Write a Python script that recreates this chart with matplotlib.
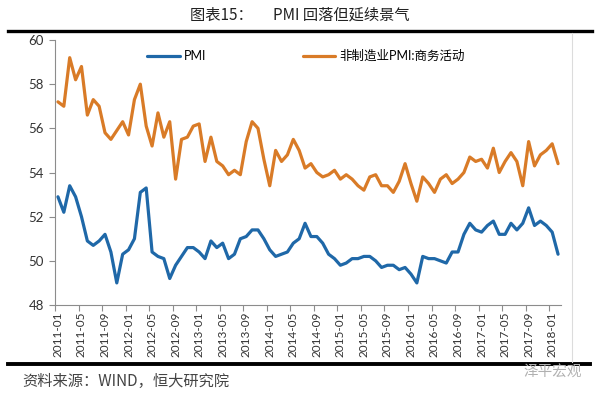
import numpy as np
import pandas as pd
import matplotlib
matplotlib.use("Agg")
import matplotlib.pyplot as plt
from matplotlib.lines import Line2D

plt.rcParams['font.family'] = ['Lato', 'Noto Sans CJK SC', 'DejaVu Sans']

# monthly, 2011-01 .. 2018-02
months = list(pd.period_range('2011-01', '2018-02', freq='M').strftime('%Y-%m'))

pmi = [52.9, 52.2, 53.4, 52.9, 52.0, 50.9, 50.7, 50.9, 51.2, 50.4, 49.0, 50.3,
       50.5, 51.0, 53.1, 53.3, 50.4, 50.2, 50.1, 49.2, 49.8, 50.2, 50.6, 50.6,
       50.4, 50.1, 50.9, 50.6, 50.8, 50.1, 50.3, 51.0, 51.1, 51.4, 51.4, 51.0,
       50.5, 50.2, 50.3, 50.4, 50.8, 51.0, 51.7, 51.1, 51.1, 50.8, 50.3, 50.1,
       49.8, 49.9, 50.1, 50.1, 50.2, 50.2, 50.0, 49.7, 49.8, 49.8, 49.6, 49.7,
       49.4, 49.0, 50.2, 50.1, 50.1, 50.0, 49.9, 50.4, 50.4, 51.2, 51.7, 51.4,
       51.3, 51.6, 51.8, 51.2, 51.2, 51.7, 51.4, 51.7, 52.4, 51.6, 51.8, 51.6,
       51.3, 50.3]

non_mfg = [57.2, 57.0, 59.2, 58.2, 58.8, 56.6, 57.3, 57.0, 55.8, 55.5, 55.9, 56.3,
           55.7, 57.3, 58.0, 56.1, 55.2, 56.7, 55.6, 56.3, 53.7, 55.5, 55.6, 56.1,
           56.2, 54.5, 55.6, 54.5, 54.3, 53.9, 54.1, 53.9, 55.4, 56.3, 56.0, 54.6,
           53.4, 55.0, 54.5, 54.8, 55.5, 55.0, 54.2, 54.4, 54.0, 53.8, 53.9, 54.1,
           53.7, 53.9, 53.7, 53.4, 53.2, 53.8, 53.9, 53.4, 53.4, 53.1, 53.6, 54.4,
           53.5, 52.7, 53.8, 53.5, 53.1, 53.7, 53.9, 53.5, 53.7, 54.0, 54.7, 54.5,
           54.6, 54.2, 55.1, 54.0, 54.5, 54.9, 54.5, 53.4, 55.4, 54.3, 54.8, 55.0,
           55.3, 54.4]

label_every = 4
BLUE = '#1f68a8'
ORANGE = '#d97b27'
AXIS_GRAY = '#8c8c8c'

fig = plt.figure(figsize=(6.0, 3.98), dpi=100)
ax = fig.add_axes([55/600, 1-305/398, 506/600, 265/398])

x = np.arange(len(months))
ax.plot(x, pmi, color=BLUE, lw=2.3, solid_joinstyle='round', solid_capstyle='round', label='PMI')
ax.plot(x, non_mfg, color=ORANGE, lw=2.3, solid_joinstyle='round', solid_capstyle='round',
        label='非制造业PMI:商务活动')

ax.set_xlim(-0.5, len(months) - 0.5)
ax.set_ylim(48, 60)
ax.set_yticks(np.arange(48, 61, 2))
ax.set_yticklabels([str(v) for v in range(48, 61, 2)], fontsize=9.5, color='#333333')

# labels on categories, tick marks between categories (Excel style)
ax.set_xticks(x[::label_every])
ax.set_xticklabels(months[::label_every], rotation=90, fontsize=8.5, color='#333333')
ax.set_xticks(x[::label_every] - 0.5, minor=True)
ax.tick_params(axis='x', which='major', length=0, pad=5)
ax.tick_params(axis='x', which='minor', length=4, color=AXIS_GRAY, width=0.8)
ax.tick_params(axis='y', length=4, color=AXIS_GRAY, width=0.8, pad=4)

for side in ['top', 'right']:
    ax.spines[side].set_visible(False)
for side in ['left', 'bottom']:
    ax.spines[side].set_color(AXIS_GRAY)
    ax.spines[side].set_linewidth(0.8)

ax.legend(loc='center left', bbox_to_anchor=(0.182, 0.94), ncol=2, frameon=False,
          fontsize=9, handlelength=2.6, handletextpad=0.35, columnspacing=7.7,
          borderpad=0, borderaxespad=0)

# frame lines of the report page
fig.add_artist(Line2D([8/600, 592/600], [1-31/398, 1-31/398], color='black', lw=2.4))
fig.add_artist(Line2D([8/600, 590/600], [1-364/398, 1-364/398], color='black', lw=2.8))
fig.add_artist(Line2D([572/600, 572/600], [1-33/398, 1-362/398], color='#dcdcdc', lw=0.8))

fig.text(0.5, 1-15/398, '图表15：      PMI 回落但延续景气', ha='center', va='center',
         fontsize=11, family=['Noto Sans CJK SC', 'DejaVu Sans'], color='#222222')
fig.text(22/600, 1-381/398, '资料来源：WIND，恒大研究院', ha='left', va='center',
         fontsize=11, style='italic', family=['Noto Sans CJK SC', 'DejaVu Sans'], color='#444444')
fig.text(582/600, 1-372/398, '泽平宏观', ha='right', va='center', fontsize=10.5,
         family=['Noto Sans CJK SC', 'DejaVu Sans'], color='#b0b0b0')

fig.savefig('out.png', dpi=100)
